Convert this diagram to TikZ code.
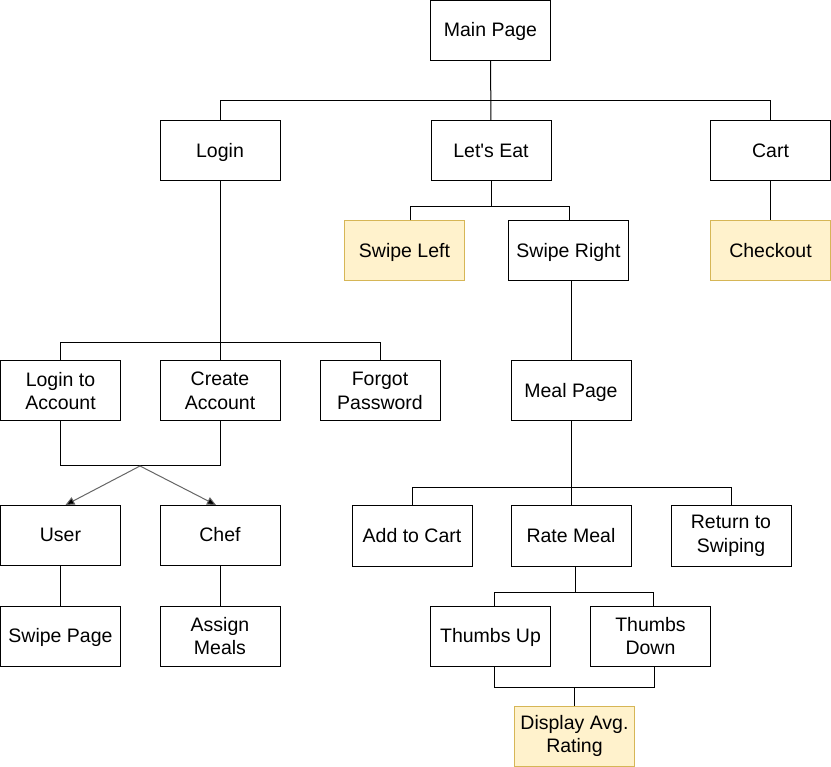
\documentclass[tikz,border=0pt]{standalone}
\usepackage{fontspec}
\setmainfont{Liberation Sans}
\usetikzlibrary{arrows.meta}
\definecolor{yfill}{HTML}{FFF2CC}
\definecolor{yline}{HTML}{D6B656}
\begin{document}
\begin{tikzpicture}[x=1pt,y=-1pt,
  box/.style={draw=black,line width=1pt,fill=white,minimum width=120pt,minimum height=60pt,
    inner sep=0pt,align=center,font=\fontsize{19.5}{23.5}\selectfont},
  one/.style={text height=14.5pt,text depth=1.5pt},
  ybox/.style={box,draw=yline,fill=yfill},
  conn/.style={draw=black,line width=1pt},
  arr/.style={draw=black!60,line width=1pt,-{Triangle[length=9pt,width=8pt,fill=black]}}]
\useasboundingbox[fill=white] (0,0) rectangle (831,767);
% nodes
\node[box,one] (main) at (490.5,30.5) {Main Page};
\node[box,one] (login) at (220,151) {Login};
\node[box,one] (eat) at (491,151) {Let\textquotesingle s Eat};
\node[box,one] (cart) at (770.5,151) {Cart};
\node[ybox,one] (swl) at (404.5,251) {Swipe Left};
\node[box,one] (swr) at (568.5,251) {Swipe Right};
\node[ybox,one] (chk) at (770.5,251) {Checkout};
\node[box] (lta) at (60.5,391) {Login to\\Account};
\node[box] (ca) at (220,391) {Create\\Account};
\node[box] (fp) at (380,391) {Forgot\\Password};
\node[box,one] (mp) at (571,391) {Meal Page};
\node[box,one] (user) at (60.5,535.5) {User};
\node[box,one] (chef) at (220,535.5) {Chef};
\node[box,one] (atc) at (412,536) {Add to Cart};
\node[box,one] (rm) at (571,536) {Rate Meal};
\node[box] (rts) at (731,536) {Return to\\Swiping};
\node[box,one] (sp) at (60.5,636) {Swipe Page};
\node[box] (am) at (220,636) {Assign\\Meals};
\node[box,one] (tu) at (490.5,636) {Thumbs Up};
\node[box] (td) at (650.5,636) {Thumbs\\Down};
\node[ybox] (dar) at (574.5,736) {Display Avg.\\Rating};
% connectors
\draw[conn] (main.south) -- (eat.north);
\draw[conn] (login.north) -- (220,100.5) -- (770.5,100.5) -- (cart.north);
\draw[conn] (eat.south) -- (491,206.5);
\draw[conn] (swl.north -| 410,0) -- (410,206.5) -- (569,206.5) -- (swr.north -| 569,0);
\draw[conn] (cart.south) -- (chk.north);
\draw[conn] (login.south) -- (ca.north);
\draw[conn] (lta.north) -- (60.5,343) -- (380,343) -- (fp.north);
\draw[conn] (lta.south) -- (60.5,466) -- (220,466) -- (ca.south);
\coordinate (split) at (140,466);
\draw[arr] (split) -- (user.north -| 65.5,0);
\draw[arr] (split) -- (chef.north -| 216,0);
\draw[conn] (user.south) -- (sp.north);
\draw[conn] (chef.south) -- (am.north);
\draw[conn] (swr.south -| mp.north) -- (mp.north);
\draw[conn] (mp.south) -- (rm.north);
\draw[conn] (atc.north) -- (412,487.5) -- (731,487.5) -- (rts.north);
\draw[conn] (rm.south -| 575,0) -- (575,592);
\draw[conn] (tu.north -| 494,0) -- (494,592) -- (653,592) -- (td.north -| 653,0);
\draw[conn] (tu.south -| 494,0) -- (494,687) -- (654,687) -- (td.south -| 654,0);
\draw[conn] (574.5,687) -- (dar.north);
\end{tikzpicture}
\end{document}
